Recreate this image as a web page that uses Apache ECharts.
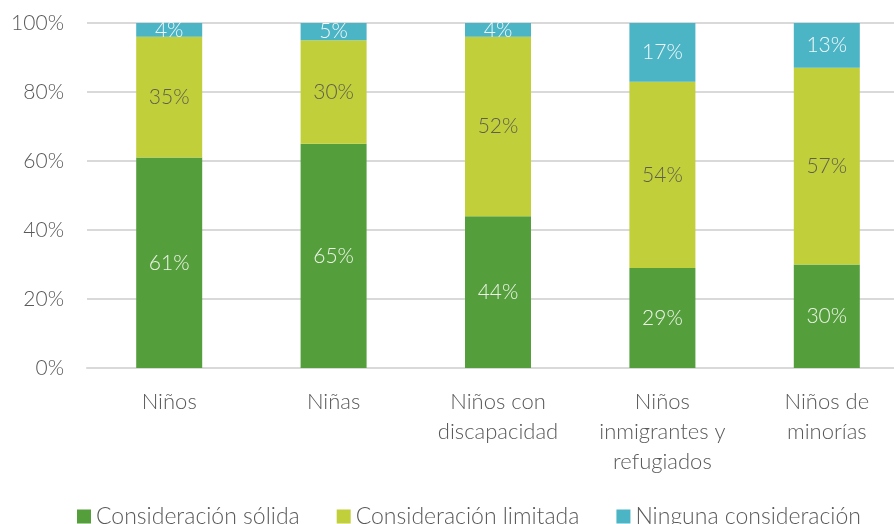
<!DOCTYPE html>
<html><head><meta charset="utf-8">
<script src="https://cdn.jsdelivr.net/npm/echarts@6/dist/echarts.min.js"></script>
<style>html,body{margin:0;padding:0;background:#fff}#c{width:894px;height:524px}</style>
</head><body><div id="c"></div>
<script>
const categories = ['Niños', 'Niñas', 'Niños con\ndiscapacidad', 'Niños\ninmigrantes y\nrefugiados', 'Niños de\nminorías'];
const solida = [61, 65, 44, 29, 30];
const limitada = [35, 30, 52, 54, 57];
const ninguna = [4, 5, 4, 17, 13];
const seriesNames = ['Consideración sólida', 'Consideración limitada', 'Ninguna consideración'];
const yTicks = [0, 20, 40, 60, 80, 100];

const FONT = 'Lato';
const chart = echarts.init(document.getElementById('c'));
function mk(name, data, color, labelColor) {
  return {
    name, type: 'bar', stack: 'total', data, barWidth: 66,
    itemStyle: { color },
    label: { show: true, position: 'inside', formatter: '{c}%', color: labelColor,
      fontFamily: FONT, fontWeight: 300, fontSize: 21 }
  };
}
chart.setOption({
  animation: false,
  textStyle: { fontFamily: FONT },
  grid: { left: 87, top: 23, width: 822, height: 345, containLabel: false, outerBoundsMode: 'none' },
  legend: {
    top: 500, left: 72, itemWidth: 14, itemHeight: 14, itemGap: 37,
    icon: 'rect',
    textStyle: { fontFamily: FONT, fontWeight: 300, fontSize: 23, color: '#595959', padding: [0, 0, 0, 0] },
    data: seriesNames
  },
  xAxis: {
    type: 'category', data: categories,
    axisLine: { lineStyle: { color: '#d9d9d9', width: 2 } },
    axisTick: { show: false },
    axisLabel: { interval: 0, hideOverlap: false, fontFamily: FONT, fontWeight: 300, fontSize: 22, color: '#595959', lineHeight: 30, margin: 19 }
  },
  yAxis: {
    type: 'value', min: 0, max: 100, interval: 20,
    axisLabel: { formatter: v => yTicks.includes(v) ? v + '%' : '', fontFamily: FONT, fontWeight: 300, fontSize: 21, color: '#595959', margin: 23 },
    splitLine: { lineStyle: { color: '#d9d9d9', width: 2 } },
    axisLine: { show: false }, axisTick: { show: false }
  },
  series: [
    mk(seriesNames[0], solida, '#549f3b', '#eef4ea'),
    mk(seriesNames[1], limitada, '#c1cf3a', '#5f5f4f'),
    mk(seriesNames[2], ninguna, '#4bb4c5', '#f2f8fa')
  ]
});
</script></body></html>
